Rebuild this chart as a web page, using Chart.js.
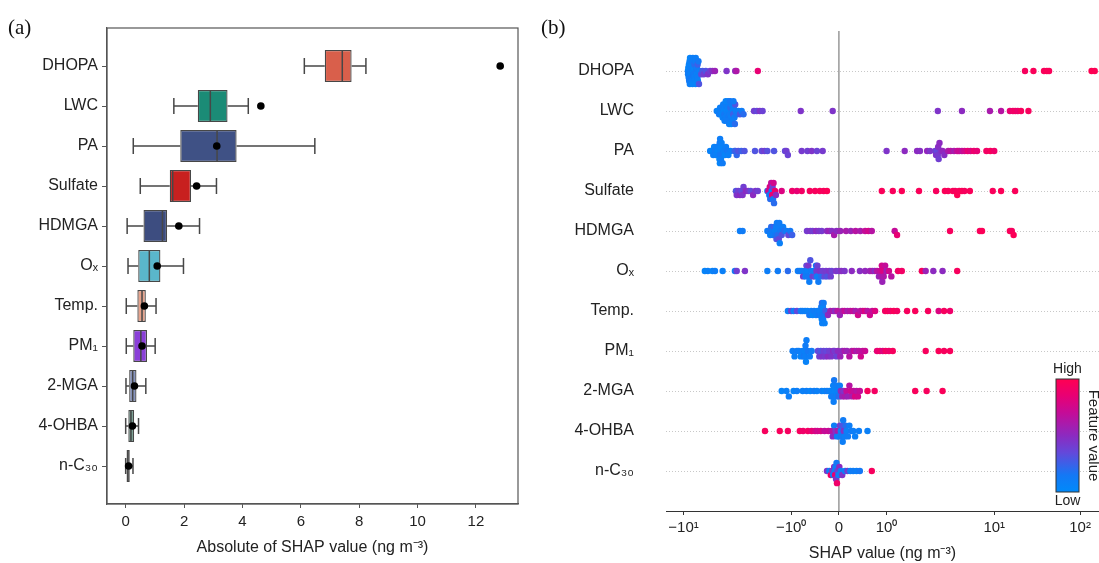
<!DOCTYPE html>
<html lang="en">
<head>
<meta charset="UTF-8" />
<title>SHAP importance</title>
<script src="https://cdn.jsdelivr.net/npm/chart.js@4.4.1/dist/chart.umd.min.js"></script>
<style>
  html, body { margin: 0; padding: 0; background: #fff; }
  #wrap { position: relative; width: 1099px; height: 563px; }
  #boxWrap { position: absolute; left: 0; top: 0; }
  #swarmWrap { position: absolute; left: 540px; top: 0; }
</style>
</head>
<body>
<div id="wrap">
  <div id="boxWrap"><canvas id="boxChart" width="540" height="563"></canvas></div>
  <div id="swarmWrap"><canvas id="swarmChart" width="559" height="563"></canvas></div>
</div>
<script>
// ---------- data ----------
const features = ['DHOPA', 'LWC', 'PA', 'Sulfate', 'HDMGA', 'Oₓ', 'Temp.', 'PM₁', '2-MGA', '4-OHBA', 'n-C₃₀'];

// panel (a): |SHAP| box statistics
const whiskerLow  = [6.12, 1.65, 0.26, 0.50, 0.05, 0.08, 0.02, 0.02, 0.01, 0.00, 0.00];
const quart1      = [6.82, 2.47, 1.87, 1.51, 0.61, 0.43, 0.40, 0.26, 0.12, 0.09, 0.03];
const medians     = [7.42, 2.90, 3.13, 1.61, 1.26, 0.81, 0.56, 0.52, 0.24, 0.18, 0.07];
const quart3      = [7.74, 3.49, 3.80, 2.24, 1.42, 1.19, 0.69, 0.73, 0.37, 0.29, 0.14];
const whiskerHigh = [8.23, 4.20, 6.48, 3.11, 2.53, 1.98, 1.04, 1.01, 0.69, 0.44, 0.25];
const meanAbs     = [12.83, 4.63, 3.12, 2.43, 1.82, 1.08, 0.64, 0.56, 0.30, 0.23, 0.10];
const xTicksA = [0, 2, 4, 6, 8, 10, 12];

// panel (b): [SHAP value, normalised feature value]
const shapDHOPA = [
  [-8.9,.08],[-8.85,.12],[-8.8,.05],[-8.7,.1],[-8.65,.06],[-8.6,.14],[-8.5,.08],[-8.45,.1],[-8.4,.05],[-8.3,.12],
  [-8.25,.07],[-8.2,.1],[-8.1,.15],[-8.05,.06],[-8.0,.09],[-7.9,.12],[-7.85,.05],[-7.8,.1],[-7.7,.08],[-7.65,.13],
  [-7.6,.06],[-7.5,.1],[-7.45,.2],[-7.4,.08],[-7.3,.12],[-7.25,.05],[-7.2,.1],[-7.1,.15],[-7.05,.08],[-7.0,.12],
  [-6.9,.1],[-6.85,.25],[-6.8,.08],[-6.7,.14],[-6.6,.3],[-6.5,.1],
  [-6.2,.35],[-6.0,.28],[-5.8,.4],[-5.5,.3],[-5.2,.45],[-4.9,.4],[-4.6,.48],[-4.3,.55],
  [-3.15,.45],[-2.5,.5],[-2.42,.62],[-1.7,.85],
  [22.8,.95],[28.6,.97],[38,.96],[41,.98],[43.5,.97],[136,1],[148,.99]
];
const shapLWC = [
  [-4.1,.1],[-3.95,.05],[-3.85,.12],[-3.75,.08],[-3.7,.1],[-3.62,.06],[-3.55,.12],[-3.5,.08],[-3.45,.1],[-3.4,.05],
  [-3.35,.15],[-3.3,.08],[-3.25,.1],[-3.2,.12],[-3.15,.06],[-3.1,.1],[-3.05,.08],[-3.0,.14],[-2.96,.1],[-2.92,.06],
  [-2.88,.12],[-2.84,.2],[-2.8,.08],[-2.76,.1],[-2.72,.15],[-2.68,.08],[-2.64,.25],[-2.6,.1],[-2.55,.12],[-2.5,.3],
  [-2.45,.08],[-2.4,.15],[-2.3,.1],[-2.2,.28],[-2.1,.12],[-2.0,.2],
  [-3.32,.1],[-3.22,.06],[-3.12,.12],[-3.02,.08],[-2.94,.1],[-2.86,.15],[-2.78,.05],[-2.7,.1],[-2.62,.12],[-2.52,.2],
  [-1.78,.4],[-1.72,.35],[-1.66,.45],[-1.6,.38],[-0.8,.45],[-0.13,.45],
  [2.2,.45],[4.2,.5],[8.9,.6],[12,.65],[15.2,.85],[16.5,.9],[17.6,.92],[18.8,.88],[20.5,.95],[25,.95]
];
const shapPA = [
  [-4.9,.08],[-4.7,.05],[-4.5,.1],[-4.4,.06],[-4.3,.12],[-4.2,.08],[-4.1,.1],[-4.0,.05],[-3.92,.1],[-3.86,.08],
  [-3.82,.06],[-3.79,.12],[-3.77,.05],[-3.75,.1],[-3.73,.08],[-3.71,.15],[-3.69,.06],[-3.66,.1],[-3.6,.08],[-3.5,.12],
  [-3.4,.1],[-3.3,.06],[-3.2,.1],[-3.1,.14],[-3.0,.08],[-2.85,.1],
  [-2.55,.2],[-2.48,.25],[-2.4,.22],[-2.3,.3],[-2.12,.25],[-1.98,.3],
  [-1.76,.3],[-1.62,.35],[-1.56,.4],[-1.5,.32],[-1.36,.3],[-1.13,.35],[-1.1,.4],[-1.07,.38],
  [-0.78,.42],[-0.66,.4],[-0.57,.45],[-0.46,.38],[-0.34,.42],
  [1.0,.45],[1.38,.5],[1.64,.5],[1.7,.48],[1.85,.52],[1.91,.45],
  [2.05,.4],[2.1,.45],[2.15,.35],[2.2,.42],[2.22,.48],[2.25,.4],[2.3,.5],[2.4,.45],[2.5,.52],[2.62,.48],
  [2.9,.6],[3.1,.65],[3.4,.6],[3.7,.7],[3.9,.72],[4.2,.68],[4.5,.75],
  [4.9,.85],[5.3,.8],[5.8,.88],[6.3,.85],[8.1,.92],[9.0,.95],[10.0,.9]
];
const shapSulfate = [
  [-2.45,.3],[-2.4,.45],[-2.3,.4],[-2.2,.5],[-2.12,.35],[-2.05,.45],[-2.0,.4],[-1.95,.5],[-1.9,.45],[-1.85,.35],
  [-1.8,.5],[-1.75,.45],[-1.7,.4],
  [-1.5,.1],[-1.48,.75],[-1.46,.15],[-1.45,.8],[-1.44,.2],[-1.42,.7],[-1.41,.1],[-1.4,.85],[-1.39,.4],[-1.38,.15],
  [-1.37,.75],[-1.36,.2],[-1.34,.9],[-1.32,.5],
  [-1.2,.8],[-0.98,.9],[-0.88,.85],[-0.78,.92],[-0.61,.95],[-0.5,.95],[-0.4,.97],[-0.32,.95],[-0.25,.98],
  [0.9,.97],[1.13,.96],[1.32,.98],[1.68,.97],[2.1,.95],[2.66,.98],[2.9,.96],[3.3,.97],[3.5,.95],[3.7,.99],
  [3.9,.96],[4.2,.98],[4.5,.95],[5.2,.97],[9.6,.96],[12,.98],[17.5,.97]
];
const shapHDMGA = [
  [-2.2,.1],[-2.05,.12],
  [-1.5,.1],[-1.47,.15],[-1.44,.08],[-1.42,.2],[-1.4,.12],[-1.38,.1],[-1.36,.25],[-1.34,.08],[-1.33,.15],[-1.32,.1],
  [-1.31,.3],[-1.3,.12],[-1.29,.08],[-1.28,.2],[-1.27,.1],[-1.26,.35],[-1.25,.12],[-1.24,.08],[-1.22,.15],[-1.2,.3],
  [-1.17,.1],[-1.14,.2],[-1.1,.12],[-1.06,.35],[-1.02,.15],[-0.98,.25],
  [-0.67,.42],[-0.6,.45],[-0.55,.4],[-0.48,.5],[-0.42,.45],[-0.36,.42],
  [-0.25,.5],[-0.2,.55],[-0.15,.48],[-0.1,.6],[-0.05,.5],[0.03,.55],
  [0.15,.6],[0.25,.55],[0.35,.65],[0.45,.6],[0.55,.7],[0.62,.75],[0.69,.65],
  [1.17,.7],[1.22,.85],[3.05,.95],[6.8,.96],[7.2,.98],[15.2,.97],[16,.95],[16.8,.98]
];
const shapOx = [
  [-5.65,.05],[-5.2,.08],[-4.6,.06],[-4.3,.1],[-3.5,.08],[-2.52,.12],[-2.4,.4],[-1.97,.45],[-1.5,.1],[-1.28,.12],[-1.07,.2],
  [-0.86,.1],[-0.82,.15],[-0.78,.08],[-0.75,.4],[-0.72,.12],[-0.7,.1],[-0.68,.35],[-0.66,.08],[-0.65,.15],[-0.64,.45],
  [-0.62,.1],[-0.6,.3],[-0.58,.12],[-0.55,.4],[-0.52,.1],[-0.5,.35],[-0.48,.15],[-0.47,.42],[-0.46,.1],[-0.45,.38],
  [-0.43,.12],[-0.4,.45],[-0.37,.2],[-0.34,.4],[-0.3,.35],[-0.27,.42],[-0.24,.3],[-0.2,.45],[-0.17,.4],[-0.15,.38],
  [-0.06,.45],[0.0,.42],[0.05,.48],[0.12,.45],[0.27,.5],[0.44,.48],[0.55,.52],
  [0.65,.55],[0.7,.6],[0.75,.5],[0.8,.65],[0.84,.55],[0.87,.7],[0.89,.6],[0.9,.75],[0.91,.55],[0.92,.8],
  [0.94,.62],[0.97,.7],[1.0,.58],[1.05,.75],[1.1,.65],
  [1.24,.9],[1.32,.92],[1.74,.95],[1.82,.55],[1.98,.5],[2.5,.5],[3.7,.95]
];
const shapTemp = [
  [-1.07,.1],[-1.0,.4],[-0.95,.1],[-0.88,.35],[-0.8,.12],[-0.76,.1],
  [-0.71,.1],[-0.66,.08],[-0.62,.15],[-0.58,.1],[-0.55,.05],[-0.52,.12],[-0.48,.08],[-0.45,.1],[-0.42,.15],[-0.4,.08],
  [-0.38,.1],[-0.37,.12],[-0.36,.05],[-0.355,.2],[-0.35,.08],[-0.345,.1],[-0.34,.15],[-0.335,.06],[-0.33,.1],[-0.32,.12],
  [-0.3,.08],[-0.28,.25],
  [-0.23,.5],[-0.18,.55],[-0.12,.6],[-0.08,.5],[-0.03,.65],[0.02,.55],[0.07,.6],[0.12,.7],
  [0.18,.6],[0.24,.65],[0.3,.7],[0.35,.6],[0.4,.75],[0.45,.65],[0.5,.7],[0.55,.8],[0.6,.65],[0.65,.75],[0.7,.7],[0.76,.8],
  [0.97,.92],[1.02,.95],[1.08,.9],[1.15,.97],[1.22,.93],[1.43,.95],[1.6,.96],[1.87,.95],[2.25,.8],[2.6,.95],[3.05,.9]
];
const shapPM1 = [
  [-0.97,.1],[-0.93,.08],[-0.88,.12],[-0.84,.1],[-0.8,.05],[-0.76,.1],[-0.74,.15],[-0.72,.08],[-0.71,.1],[-0.7,.12],
  [-0.69,.06],[-0.68,.1],[-0.65,.15],[-0.61,.1],[-0.57,.12],
  [-0.44,.35],[-0.41,.4],[-0.38,.3],[-0.35,.45],[-0.32,.38],[-0.29,.42],[-0.26,.35],[-0.23,.48],[-0.2,.4],[-0.16,.45],
  [-0.12,.5],[-0.09,.42],[-0.05,.38],[-0.02,.5],
  [0.03,.55],[0.07,.5],[0.12,.6],[0.17,.55],[0.22,.65],[0.27,.6],[0.32,.7],[0.37,.6],[0.42,.65],[0.46,.75],[0.5,.68],[0.55,.72],
  [0.8,.85],[0.86,.9],[0.92,.8],[0.98,.92],[1.05,.88],[1.13,.95],
  [1.82,.95],[2.25,.97],[2.6,.95],[3.05,.96]
];
const shap2MGA = [
  [-1.2,.05],[-1.1,.08],[-1.05,.1],[-0.95,.06],[-0.88,.1],[-0.76,.08],[-0.68,.1],[-0.6,.06],[-0.52,.12],[-0.46,.08],
  [-0.36,.1],[-0.3,.05],[-0.25,.12],[-0.2,.08],[-0.16,.1],[-0.14,.06],[-0.13,.12],[-0.12,.08],[-0.11,.1],[-0.1,.15],
  [-0.08,.06],[-0.06,.1],[-0.04,.12],[-0.02,.08],[0.0,.2],[0.02,.1],
  [0.04,.5],[0.07,.55],[0.1,.45],[0.13,.6],[0.16,.7],[0.19,.55],[0.22,.65],[0.25,.75],[0.28,.6],[0.31,.7],
  [0.34,.8],[0.37,.65],[0.4,.75],[0.44,.7],
  [0.6,.95],[0.75,.93],[1.6,.96],[1.84,.95],[2.5,.97]
];
const shap4OHBA = [
  [-1.55,.95],[-1.24,.96],[-1.07,.94],[-0.82,.95],[-0.75,.9],[-0.65,.92],[-0.57,.85],
  [-0.5,.8],[-0.45,.75],[-0.38,.78],[-0.3,.7],[-0.22,.72],[-0.15,.65],
  [-0.13,.5],[-0.1,.1],[-0.07,.45],[-0.04,.12],[-0.02,.6],[0.0,.1],[0.02,.4],[0.04,.08],[0.06,.15],[0.07,.3],
  [0.08,.1],[0.09,.12],[0.1,.45],[0.12,.1],[0.14,.2],[0.16,.08],[0.19,.12],[0.22,.1],[0.26,.15],[0.3,.1],[0.34,.08],
  [0.42,.1],[0.6,.08]
];
const shapNC30 = [
  [-0.25,.45],[-0.2,.1],[-0.17,.9],[-0.14,.45],[-0.12,.1],[-0.1,.5],[-0.09,.12],[-0.08,.85],[-0.07,.1],[-0.06,.45],
  [-0.05,.15],[-0.04,.9],[-0.03,.4],[-0.01,.1],[0.01,.5],[0.04,.12],[0.07,.45],
  [0.13,.1],[0.18,.4],[0.24,.08],[0.3,.12],[0.37,.1],[0.44,.15],[0.69,.95]
];
const swarmRows = [shapDHOPA, shapLWC, shapPA, shapSulfate, shapHDMGA, shapOx, shapTemp, shapPM1, shap2MGA, shap4OHBA, shapNC30];
const xTicksB = [-10, -1, 0, 1, 10, 100];
const xTickLabelsB = ['−10¹', '−10⁰', '0', '10⁰', '10¹', '10²'];

// ---------- styles ----------
const FONT = '"Liberation Sans", Arial, sans-serif';
const boxColors = ['#d95f4b', '#1b8b76', '#3f5185', '#c8201f', '#3d4d80', '#5ab6cb', '#e7a38c', '#8a3fd8', '#8794bf', '#6b9688', '#3a3a3a'];
const EDGE = '#474747';
Chart.defaults.font.family = FONT;
Chart.defaults.color = '#222';
Chart.defaults.animation = false;

// shap-like red/blue colormap
const cmapStops = [[0, [0, 138, 250]], [0.15, [20, 120, 245]], [0.35, [100, 72, 218]], [0.5, [140, 42, 192]],
                   [0.7, [196, 12, 152]], [0.85, [232, 0, 116]], [1, [255, 0, 82]]];
function featureColor(t) {
  for (let k = 1; k < cmapStops.length; k++) {
    if (t <= cmapStops[k][0]) {
      const [t0, c0] = cmapStops[k - 1], [t1, c1] = cmapStops[k];
      const f = (t - t0) / (t1 - t0);
      const c = c0.map((v, j) => Math.round(v + (c1[j] - v) * f));
      return `rgb(${c[0]},${c[1]},${c[2]})`;
    }
  }
  return 'rgb(255,0,82)';
}

// ---------- symlog scale (linthresh 2, base 10) ----------
const LIN_T = 2, LIN_S = 1 / (1 - 1 / 10);
function symT(v) {
  const a = Math.abs(v);
  return a <= LIN_T ? v * LIN_S : Math.sign(v) * LIN_T * (LIN_S + Math.log10(a / LIN_T));
}
function symInv(t) {
  const a = Math.abs(t);
  return a <= LIN_T * LIN_S ? t / LIN_S : Math.sign(t) * LIN_T * Math.pow(10, a / LIN_T - LIN_S);
}
class SymlogScale extends Chart.Scale {
  static id = 'symlog';
  static defaults = {};
  determineDataLimits() {
    this.min = this.options.min;
    this.max = this.options.max;
  }
  buildTicks() {
    return xTicksB.map(v => ({ value: v }));
  }
  configure() {
    super.configure();
    this._t0 = symT(this.min);
    this._t1 = symT(this.max);
  }
  getLabelForValue(v) { return String(v); }
  getPixelForValue(v) {
    return this.getPixelForDecimal((symT(v) - this._t0) / (this._t1 - this._t0));
  }
  getValueForPixel(p) {
    return symInv(this._t0 + this.getDecimalForPixel(p) * (this._t1 - this._t0));
  }
}
Chart.register(SymlogScale);

// beeswarm vertical offsets (shap-style layering, bins of ~3 px)
function swarmOffsets(rows) {
  const q = rows.map(p => Math.round(symT(p[0]) / 0.07));
  const order = rows.map((_, i) => i).sort((a, b) => q[a] - q[b] || a - b);
  const ys = new Array(rows.length).fill(0);
  let layer = 0, last = null;
  for (const i of order) {
    if (q[i] !== last) layer = 0;
    ys[i] = Math.ceil(layer / 2) * ((layer % 2) * 2 - 1);
    layer++;
    last = q[i];
  }
  const k = 0.9 * 0.45 / Math.max(...ys.map(y => y + 1));
  return ys.map(y => y * k);
}

// keep the plot area exactly where the layout puts it
function noEdgePadding(s) {
  s.paddingTop = 0; s.paddingBottom = 0; s.paddingLeft = 0; s.paddingRight = 0;
}

// ---------- panel (a) ----------
const boxExtras = {
  id: 'boxExtras',
  afterDatasetDraw(chart, args) {
    if (args.meta.type !== 'bar') return;
    const { ctx, scales: { x, y } } = chart;
    const half = Math.abs(y.getPixelForValue(0.4) - y.getPixelForValue(0));
    const cap = half / 2;
    ctx.save();
    ctx.strokeStyle = EDGE;
    ctx.lineWidth = 1.5;
    features.forEach((f, i) => {
      const yc = y.getPixelForValue(i);
      const xl = x.getPixelForValue(whiskerLow[i]), x1 = x.getPixelForValue(quart1[i]);
      const x3 = x.getPixelForValue(quart3[i]), xh = x.getPixelForValue(whiskerHigh[i]);
      const xm = x.getPixelForValue(medians[i]);
      ctx.beginPath();
      ctx.moveTo(xl, yc); ctx.lineTo(x1, yc);
      ctx.moveTo(x3, yc); ctx.lineTo(xh, yc);
      ctx.moveTo(xl, yc - cap); ctx.lineTo(xl, yc + cap);
      ctx.moveTo(xh, yc - cap); ctx.lineTo(xh, yc + cap);
      ctx.moveTo(xm, yc - half); ctx.lineTo(xm, yc + half);
      ctx.stroke();
    });
    ctx.restore();
  },
  afterDraw(chart) {
    const { ctx, chartArea: a } = chart;
    ctx.save();
    ctx.strokeStyle = '#555';
    ctx.lineWidth = 1.2;
    ctx.strokeRect(a.left, a.top, a.right - a.left, a.bottom - a.top);
    ctx.fillStyle = '#111';
    ctx.font = '21px "Liberation Serif", "Times New Roman", serif';
    ctx.textBaseline = 'alphabetic';
    ctx.fillText('(a)', 8, 34);
    ctx.restore();
  }
};

new Chart(document.getElementById('boxChart'), {
  type: 'bar',
  data: {
    datasets: [
      {
        type: 'scatter',
        label: 'mean',
        data: features.map((f, i) => ({ x: meanAbs[i], y: i })),
        backgroundColor: '#000',
        pointRadius: 3.8,
        pointBorderWidth: 0,
        order: 0
      },
      {
        type: 'bar',
        label: 'IQR',
        indexAxis: 'y',
        data: features.map((f, i) => ({ x: [quart1[i], quart3[i]], y: i })),
        backgroundColor: boxColors,
        borderColor: EDGE,
        borderWidth: 1.3,
        borderSkipped: false,
        barPercentage: 0.8,
        categoryPercentage: 1,
        order: 1
      }
    ]
  },
  options: {
    responsive: false,
    layout: { autoPadding: false, padding: { left: 0, right: 22, top: 28, bottom: 0 } },
    plugins: { legend: { display: false }, tooltip: { enabled: false } },
    scales: {
      x: {
        type: 'linear',
        offset: false,
        min: -0.64,
        max: 13.44,
        afterBuildTicks: s => { s.ticks = xTicksA.map(v => ({ value: v })); },
        afterFit: s => { s.height = 59; noEdgePadding(s); },
        grid: { offset: false, drawOnChartArea: false, tickLength: 4, color: '#555' },
        border: { display: true, color: '#555', width: 1.2 },
        ticks: { font: { size: 15 }, padding: 5, maxRotation: 0 },
        title: { display: true, text: 'Absolute of SHAP value (ng m⁻³)', font: { size: 16 }, padding: { top: 0, bottom: 6 } }
      },
      y: {
        type: 'linear',
        offset: false,
        reverse: true,
        min: -0.95,
        max: 10.95,
        afterBuildTicks: s => { s.ticks = features.map((f, i) => ({ value: i })); },
        afterFit: s => { s.width = 107; noEdgePadding(s); },
        grid: { offset: false, drawOnChartArea: false, tickLength: 5, color: '#555' },
        border: { display: true, color: '#555', width: 1.2 },
        ticks: { font: { size: 16 }, padding: 4, callback: v => features[v] }
      }
    }
  },
  plugins: [boxExtras]
});

// ---------- panel (b) ----------
const swarmExtras = {
  id: 'swarmExtras',
  beforeDatasetsDraw(chart) {
    const { ctx, chartArea: a, scales: { x } } = chart;
    const x0 = x.getPixelForValue(0);
    ctx.save();
    ctx.strokeStyle = '#999';
    ctx.lineWidth = 1.5;
    ctx.beginPath();
    ctx.moveTo(x0, a.top);
    ctx.lineTo(x0, a.bottom);
    ctx.stroke();
    ctx.restore();
  },
  afterDraw(chart) {
    const { ctx } = chart;
    // colour bar
    const cx = 516, cw = 23, top = 379, bottom = 492;
    const g = ctx.createLinearGradient(0, bottom, 0, top);
    cmapStops.forEach(([t]) => g.addColorStop(t, featureColor(t)));
    ctx.save();
    ctx.fillStyle = g;
    ctx.fillRect(cx, top, cw, bottom - top);
    ctx.strokeStyle = '#333';
    ctx.lineWidth = 1;
    ctx.strokeRect(cx, top, cw, bottom - top);
    ctx.fillStyle = '#222';
    ctx.font = '14px ' + FONT;
    ctx.textAlign = 'center';
    ctx.textBaseline = 'middle';
    ctx.fillText('High', cx + cw / 2, 369);
    ctx.fillText('Low', cx + cw / 2, 501);
    ctx.translate(553, (top + bottom) / 2);
    ctx.rotate(Math.PI / 2);
    ctx.font = '15px ' + FONT;
    ctx.fillText('Feature value', 0, 0);
    ctx.restore();
    // panel tag
    ctx.save();
    ctx.fillStyle = '#111';
    ctx.font = '21px "Liberation Serif", "Times New Roman", serif';
    ctx.fillText('(b)', 1, 34);
    ctx.restore();
  }
};

new Chart(document.getElementById('swarmChart'), {
  type: 'scatter',
  data: {
    datasets: swarmRows.map((rows, i) => {
      const off = swarmOffsets(rows);
      return {
        label: features[i],
        data: rows.map((p, j) => ({ x: p[0], y: i + off[j] })),
        backgroundColor: rows.map(p => featureColor(p[1])),
        pointRadius: 3.2,
        pointBorderWidth: 0,
        clip: false
      };
    })
  },
  options: {
    responsive: false,
    layout: { autoPadding: false, padding: { left: 0, right: 0, top: 31, bottom: 0 } },
    plugins: { legend: { display: false }, tooltip: { enabled: false } },
    scales: {
      x: {
        type: 'symlog',
        position: 'bottom',
        min: -16,
        max: 166,
        afterFit: s => { s.height = 52; noEdgePadding(s); },
        grid: { drawOnChartArea: false, tickLength: 4, color: '#333' },
        border: { display: true, color: '#333', width: 1 },
        ticks: { font: { size: 15 }, padding: 4, maxRotation: 0, autoSkip: false, callback: (v, i) => xTickLabelsB[i] },
        title: { display: true, text: 'SHAP value (ng m⁻³)', font: { size: 16 }, padding: { top: 0, bottom: 0 } }
      },
      y: {
        type: 'linear',
        reverse: true,
        min: -1,
        max: 11,
        afterBuildTicks: s => { s.ticks = features.map((f, i) => ({ value: i })); },
        afterFit: s => { s.width = 126; noEdgePadding(s); },
        grid: { drawTicks: false, color: '#c8c8c8', lineWidth: 1 },
        border: { display: false, dash: [1, 2] },
        ticks: { font: { size: 16 }, padding: 32, callback: v => features[v] }
      }
    }
  },
  plugins: [swarmExtras]
});
</script>
</body>
</html>
